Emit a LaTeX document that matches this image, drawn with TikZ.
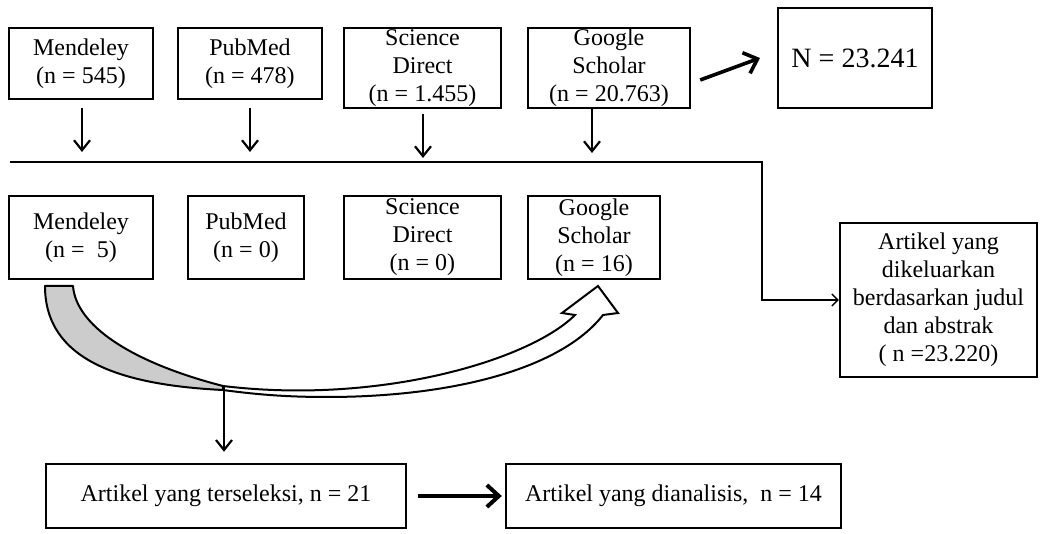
\documentclass[tikz,border=0pt]{standalone}
\usepackage{fontspec}
\setmainfont{Liberation Serif}
\usetikzlibrary{positioning, calc, arrows.meta}

\begin{document}
\begin{tikzpicture}[x=0.5pt, y=-0.5pt,
    box/.style={draw, line width=1.2pt, align=center, inner sep=0pt,
                font=\fontsize{12}{14}\selectfont},
    down/.style={-{Straight Barb[length=5pt, width=8pt]}, line width=1.1pt},
    bold/.style={-{Straight Barb[length=6pt, width=11pt]}, line width=2pt},
    thin/.style={line width=0.7pt}]

    \useasboundingbox (0,0) rectangle (1041,534);

    % --- Search results per database ---
    \node[box, minimum width=72pt, minimum height=35.5pt] (m1) at (81,63.5) {Mendeley\\(n = 545)};
    \node[box, minimum width=72pt, minimum height=35.5pt] (p1) at (250,63.5) {PubMed\\(n = 478)};
    \node[box, minimum width=78.5pt, minimum height=40pt] (s1) at (422.5,68) {Science\\Direct\\(n = 1.455)};
    \node[box, minimum width=81pt, minimum height=40pt] (g1) at (609,68) {Google\\Scholar\\(n = 20.763)};
    \node[box, minimum width=77pt, minimum height=50pt, font=\fontsize{14}{16}\selectfont] (N) at (855,58) {N = 23.241};

    % --- Screened per database ---
    \node[box, minimum width=72pt, minimum height=41.5pt] (m2) at (81,237.5) {Mendeley\\(n = \ 5)};
    \node[box, minimum width=58pt, minimum height=41.5pt] (p2) at (246,237.5) {PubMed\\(n = 0)};
    \node[box, minimum width=78.5pt, minimum height=41.5pt] (s2) at (422.5,237.5) {Science\\Direct\\(n = 0)};
    \node[box, minimum width=66pt, minimum height=41.5pt] (g2) at (594,237.5) {Google\\Scholar\\(n = 16)};

    % --- Excluded, selected and analysed ---
    \node[box, minimum width=98.5pt, minimum height=77pt] (ex) at (938.5,300) {Artikel yang\\dikeluarkan\\berdasarkan judul\\dan abstrak\\( n =23.220)};
    \node[box, minimum width=180pt, minimum height=32pt] (b1) at (226,496) {Artikel yang terseleksi, n = 21};
    \node[box, minimum width=167.5pt, minimum height=32pt] (b2) at (673.5,496) {Artikel yang dianalisis,\ \ n = 14};

    % --- Arrow tips and line ends ---
    \coordinate (m1e) at (82,152);
    \coordinate (p1e) at (250,152);
    \coordinate (s1e) at (423,158);
    \coordinate (g1e) at (592,153);
    \coordinate (Ne) at (760,58);
    \coordinate (hl) at (10,162);
    \coordinate (hr) at (762,162);
    \coordinate (cv) at (224,386);

    % --- Down arrows to the divider ---
    \draw[down] (m1.south) ++(1,8) -- (m1e);
    \draw[down] (p1.south) ++(0,8) -- (p1e);
    \draw[down] (s1.south) ++(0.5,5) -- (s1e);
    \draw[down] (g1.south) ++(-17,0) -- (g1e);
    \draw[bold, line width=1.8pt] (g1.east) ++(9,12) -- (Ne);

    % --- Divider and excluded branch ---
    \draw[thin, -{Straight Barb[length=3pt, width=6pt]}] (hl) -- (hr) |- (ex.west);

    % --- Curved block arrow (Mendeley to Google Scholar) ---
    \filldraw[fill=black!20, line width=1pt, line join=round]
        (45,286) -- (73,286) .. controls (76,325) and (130,362) .. (223,386)
        -- (223,390) .. controls (120,385) and (45,360) .. cycle;
    \filldraw[fill=white, line width=1pt, line join=miter]
        (223,386) .. controls (380,405) and (530,360) .. (575,315)
        -- (562,313) -- (598,286) -- (618,313) -- (603,315)
        .. controls (560,370) and (450,397) .. (327,397)
        .. controls (290,397) and (260,395) .. (223,390) -- cycle;

    % --- Selected and analysed ---
    \draw[down, shorten >=5.5pt] (cv) -- (cv |- b1.north);
    \draw[bold, shorten <=5.5pt, shorten >=1.5pt] (b1.east) -- (b2.west);

\end{tikzpicture}
\end{document}
